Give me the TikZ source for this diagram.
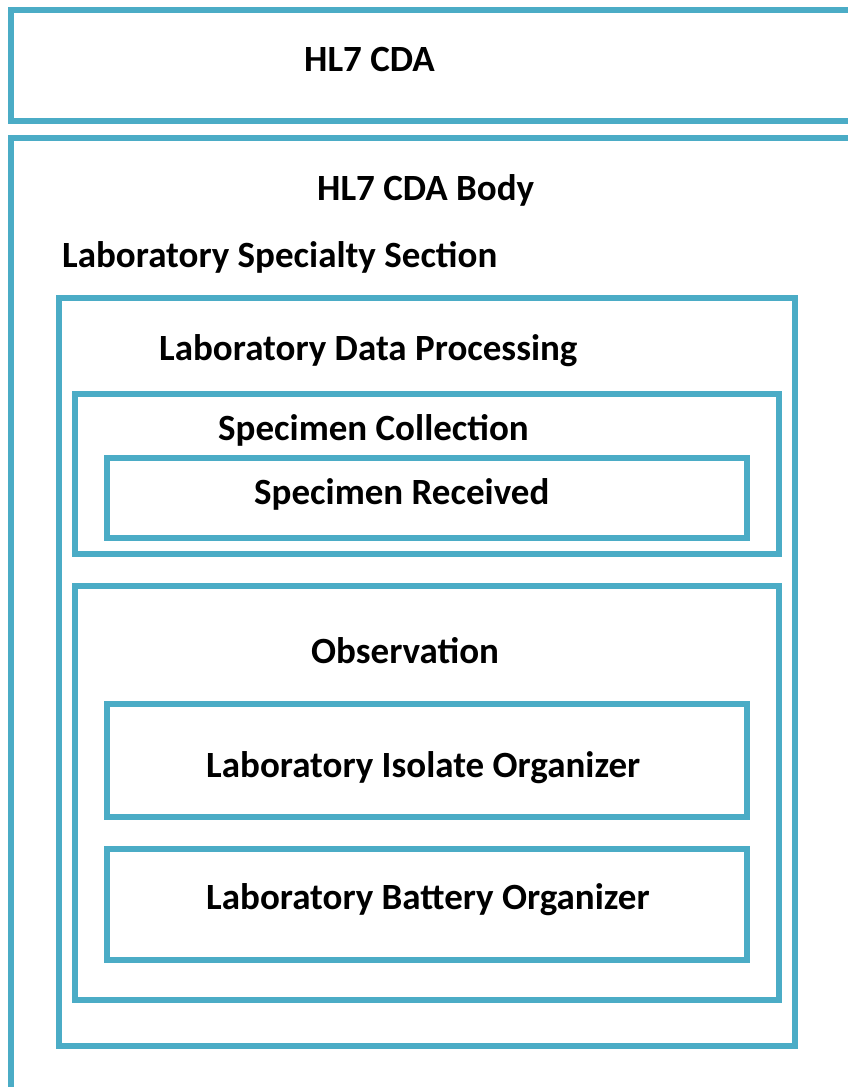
\documentclass[tikz,border=0pt]{standalone}
\usepackage{fontspec}
\setmainfont{Carlito}
\definecolor{frame}{RGB}{75,172,198}
\begin{document}
\begin{tikzpicture}[x=1pt,y=-1pt,
  box/.style={draw=frame, line width=5.5pt, rectangle, inner sep=0pt, outer sep=0pt},
  lbl/.style={anchor=base west, inner sep=0pt, font=\bfseries\fontsize{37}{42}\selectfont}]
\useasboundingbox (0,0) rectangle (848,1087);
\fill[white] (0,0) rectangle (848,1087);
% boxes: corners given as stroke centres
\node[box, minimum width=849pt, minimum height=111pt] (cda) at (435.5,65.5) {};
\node[box, minimum width=849pt, minimum height=952pt] (body) at (435.5,614) {};
\node[box, minimum width=736pt, minimum height=748pt] (ldp) at (427,672) {};
\node[box, minimum width=704pt, minimum height=160pt] (sc) at (427,474) {};
\node[box, minimum width=640pt, minimum height=80pt] (sr) at (427,498) {};
\node[box, minimum width=704pt, minimum height=414pt] (obs) at (427,793) {};
\node[box, minimum width=640pt, minimum height=113pt] (iso) at (427,760.5) {};
\node[box, minimum width=640pt, minimum height=111pt] (bat) at (427,904.5) {};
% labels
\node[lbl] (tcda) at (304,71) {HL7 CDA};
\node[lbl] (tbody) at (317,200) {HL7 CDA Body};
\node[lbl] (tlss) at (62,267) {Laboratory Specialty Section};
\node[lbl] (tldp) at (159,360) {Laboratory Data Processing};
\node[lbl] (tsc) at (218,440) {Specimen Collection};
\node[lbl] (tsr) at (254,504) {Specimen Received};
\node[lbl] (tobs) at (311,663) {Observation};
\node[lbl] (tiso) at (206,777) {Laboratory Isolate Organizer};
\node[lbl] (tbat) at (206,909) {Laboratory Battery Organizer};
\end{tikzpicture}
\end{document}
